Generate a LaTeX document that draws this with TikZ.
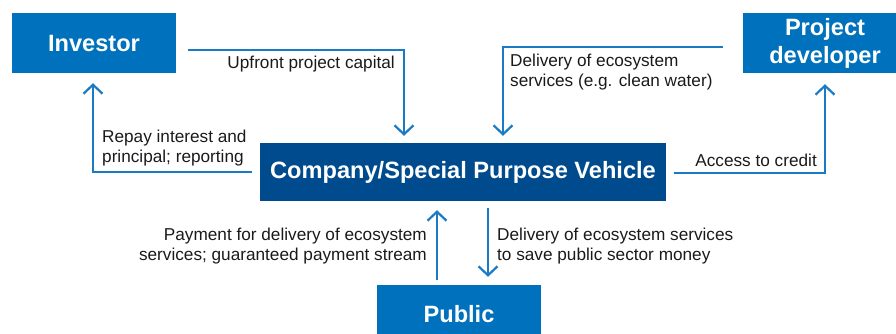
\documentclass[tikz,border=0pt]{standalone}
\usepackage{fontspec}
\setmainfont{Liberation Sans}
\usetikzlibrary{arrows.meta}
\definecolor{boxblue}{HTML}{0071BC}
\definecolor{spvblue}{HTML}{004B8D}
\definecolor{arrowblue}{HTML}{1A7AC4}
\definecolor{labeltext}{HTML}{1A1A1A}
\begin{document}
\begin{tikzpicture}[x=1pt,y=-1pt,
  party/.style={fill=boxblue, text=white, inner sep=0pt, minimum width=164pt, minimum height=60pt,
    font=\fontsize{23.6}{28}\selectfont\bfseries, align=center},
  spvbox/.style={fill=spvblue, text=white, inner sep=0pt, minimum width=406pt, minimum height=58pt,
    font=\fontsize{23.6}{27}\selectfont\bfseries},
  flow/.style={draw=arrowblue, line width=2.2pt, -{Straight Barb[length=9pt,width=19pt]}},
  lbl/.style={text=labeltext, inner sep=0pt, font=\fontsize{17.2}{20}\selectfont}
]
\useasboundingbox (0,0) rectangle (896,334);
\begin{scope}
\clip (0,0) rectangle (896,334);
\node[party] (inv) at (94,43) {Investor};
\node[party] (pd) at (825,43) {Project\\developer};
\node[party] (pub) at (459,315) {\raisebox{1.5pt}{Public}};
\node[spvbox] (spv) at (463,172) {Company/Special Purpose Vehicle};
\end{scope}

% connectors
\draw[flow] ([xshift=12pt,yshift=-7pt]inv.east) -| ([xshift=-59pt,yshift=7pt]spv.north);
\draw[flow] ([xshift=-20pt,yshift=-4pt]pd.west) -| ([xshift=40pt,yshift=7pt]spv.north);
\draw[flow] ([xshift=-8pt]spv.west) -| ([xshift=-1pt,yshift=-10pt]inv.south);
\draw[flow] ([xshift=8pt,yshift=-1pt]spv.east) -| ([yshift=-11pt]pd.south);
\draw[flow] ([xshift=-22pt,yshift=5pt]pub.north) -- ([xshift=-26pt,yshift=-9pt]spv.south);
\draw[flow] ([xshift=25pt,yshift=-7pt]spv.south) -- ([xshift=29pt,yshift=8pt]pub.north);

% labels
\node[lbl, anchor=east] (l1) at (395,64) {Upfront project capital};
\node[lbl, anchor=west, align=left] (l2) at (510,72) {Delivery of ecosystem\\services (e.g. clean water)};
\node[lbl, anchor=west, align=left] (l3) at (102,148) {Repay interest and\\principal; reporting};
\node[lbl, anchor=east] (l4) at (817,160) {Access to credit};
\node[lbl, anchor=east, align=right] (l5) at (427,246) {Payment for delivery of ecosystem\\services; guaranteed payment stream};
\node[lbl, anchor=west, align=left] (l6) at (497,246) {Delivery of ecosystem services\\to save public sector money};
\end{tikzpicture}
\end{document}
